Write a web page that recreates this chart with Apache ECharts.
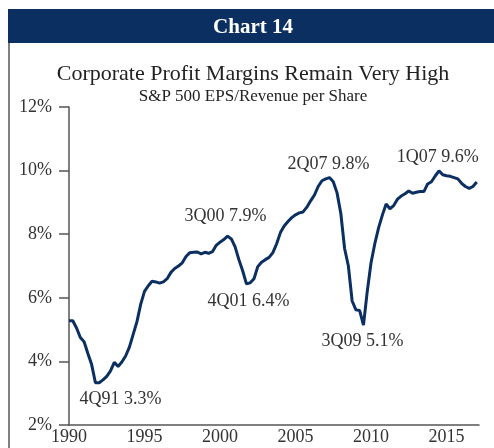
<!DOCTYPE html>
<html>
<head>
<meta charset="utf-8">
<script src="https://cdn.jsdelivr.net/npm/echarts@6/dist/echarts.min.js"></script>
<style>
  html, body { margin: 0; padding: 0; background: #fff; }
  #chart { width: 494px; height: 448px; }
</style>
</head>
<body>
<div id="chart"></div>
<script>
// quarterly S&P 500 EPS / revenue per share, 1Q90 .. 1Q17
var startYear = 1990;
var margins = [
  5.28, 5.28, 5.05, 4.75,   // 1990
  4.62, 4.25, 3.90, 3.33,   // 1991
  3.33, 3.42, 3.53, 3.70,   // 1992
  3.97, 3.84, 3.98, 4.17,   // 1993
  4.45, 4.85, 5.25, 5.80,   // 1994
  6.20, 6.38, 6.52, 6.50,   // 1995
  6.46, 6.50, 6.60, 6.80,   // 1996
  6.92, 7.00, 7.10, 7.30,   // 1997
  7.42, 7.43, 7.44, 7.38,   // 1998
  7.43, 7.40, 7.45, 7.65,   // 1999
  7.75, 7.83, 7.94, 7.85,   // 2000
  7.60, 7.20, 6.85, 6.44,   // 2001
  6.47, 6.60, 6.98, 7.12,   // 2002
  7.20, 7.27, 7.42, 7.70,   // 2003
  8.05, 8.26, 8.40, 8.52,   // 2004
  8.61, 8.67, 8.70, 8.85,   // 2005
  9.05, 9.23, 9.50, 9.68,   // 2006
  9.74, 9.78, 9.65, 9.30,   // 2007
  8.65, 7.55, 7.00, 5.90,   // 2008
  5.62, 5.60, 5.14, 6.20,   // 2009
  7.10, 7.70, 8.20, 8.60,   // 2010
  8.95, 8.80, 8.90, 9.10,   // 2011
  9.20, 9.27, 9.36, 9.29,   // 2012
  9.32, 9.34, 9.34, 9.58,   // 2013
  9.65, 9.83, 9.99, 9.87,   // 2014
  9.84, 9.82, 9.78, 9.74,   // 2015
  9.60, 9.50, 9.44, 9.50,   // 2016
  9.64                      // 2017
];
var xTicks = [1990, 1995, 2000, 2005, 2010, 2015];
var yTicks = [2, 4, 6, 8, 10, 12];

// annotations: label, quarter index, text offset
var noteLabels = ['4Q91 3.3%', '3Q00 7.9%', '4Q01 6.4%', '2Q07 9.8%', '3Q09 5.1%', '1Q07 9.6%'];
var noteIndex  = [7, 42, 47, 69, 78, 108];
var noteOffset = [[25, 17], [-2, -20], [2, 17], [-1, -13], [-1, 16], [-39, -25]];

var points = margins.map(function (v, i) {
  return [startYear + i / 4, v];
});

var serif = "'Liberation Serif', 'DejaVu Serif', serif";
var navy = '#0c2f62';
var axisGrey = '#555';

var myChart = echarts.init(document.getElementById('chart'));
var option = {
  animation: false,
  grid: { left: 69, right: 15, top: 107, bottom: 23 },
  graphic: [
    { type: 'rect', shape: { x: 8, y: 9, width: 486, height: 34 }, style: { fill: navy } },
    { type: 'rect', shape: { x: 8, y: 43, width: 2, height: 405 }, style: { fill: '#808080' } },
    { type: 'text', x: 253, y: 28, style: { text: 'Chart 14', fill: '#fff', font: 'bold 21px ' + serif, textAlign: 'center', textVerticalAlign: 'middle' } },
    { type: 'text', x: 253, y: 74, style: { text: 'Corporate Profit Margins Remain Very High', fill: '#222', font: '22px ' + serif, textAlign: 'center', textVerticalAlign: 'middle' } },
    { type: 'text', x: 253, y: 97, style: { text: 'S&P 500 EPS/Revenue per Share', fill: '#222', font: '17px ' + serif, textAlign: 'center', textVerticalAlign: 'middle' } }
  ],
  xAxis: {
    type: 'value',
    min: 1990,
    max: 2017.15,
    interval: 5,
    splitLine: { show: false },
    axisTick: { show: false },
    axisLine: { lineStyle: { color: axisGrey, width: 1.5 } },
    axisLabel: {
      color: '#333',
      fontFamily: serif,
      fontSize: 18,
      margin: 3,
      showMaxLabel: false,
      formatter: function (v) { return xTicks.indexOf(v) >= 0 ? String(v) : ''; }
    }
  },
  yAxis: {
    type: 'value',
    min: yTicks[0],
    max: yTicks[yTicks.length - 1],
    interval: 2,
    splitLine: { show: false },
    axisLine: { show: true, lineStyle: { color: axisGrey, width: 1.5 } },
    axisTick: { show: true, length: 10, lineStyle: { color: axisGrey, width: 1.5 } },
    axisLabel: { color: '#333', fontFamily: serif, fontSize: 18, margin: 17, formatter: '{value}%' }
  },
  series: [{
    type: 'line',
    data: points,
    showSymbol: false,
    lineStyle: { color: navy, width: 3 },
    markPoint: {
      symbol: 'circle',
      symbolSize: 0,
      label: { show: true, color: '#333', fontFamily: serif, fontSize: 18 },
      data: noteLabels.map(function (t, k) {
        return {
          coord: points[noteIndex[k]],
          label: { formatter: t, offset: noteOffset[k] }
        };
      })
    }
  }]
};
myChart.setOption(option, true);
</script>
</body>
</html>
